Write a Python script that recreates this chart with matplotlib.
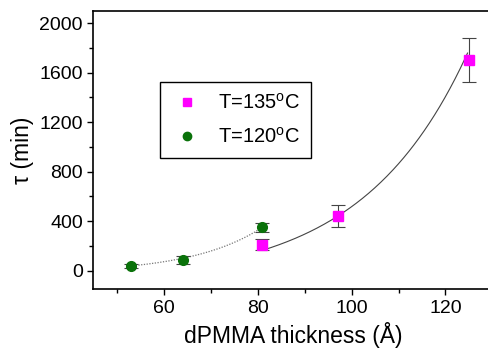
import numpy as np
import matplotlib
matplotlib.use("Agg")
import matplotlib.pyplot as plt
from matplotlib.lines import Line2D
from matplotlib.ticker import MultipleLocator

plt.rcParams['font.family'] = ['Liberation Sans', 'DejaVu Sans']
plt.rcParams['mathtext.fontset'] = 'custom'
plt.rcParams['mathtext.rm'] = 'Liberation Sans'

# relaxation time vs film thickness
thick_135 = [81, 97, 125]
tau_135 = [210, 440, 1700]
err_135 = [43, 90, 180]

thick_120 = [53, 64, 81]
tau_120 = [40, 88, 352]
err_120 = [16, 33, 36]

# exponential fits  y = y0 + A*exp((x - x0)/t)
fit_135 = dict(y0=-100, A=264, x0=81, t=22.4, xmin=81, xmax=124.7)
fit_120 = dict(y0=-19, A=57, x0=53, t=15.0, xmin=54, xmax=81)

magenta = '#ff00ff'
green = '#0a720a'


def fit_curve(p):
    x = np.linspace(p['xmin'], p['xmax'], 200)
    return x, p['y0'] + p['A'] * np.exp((x - p['x0']) / p['t'])


fig = plt.figure(figsize=(4.89, 3.54), dpi=100)
ax = fig.add_axes([0.191, 0.183, 0.816, 0.787])

x, y = fit_curve(fit_135)
ax.plot(x, y, color='#444444', lw=0.8)
x, y = fit_curve(fit_120)
ax.plot(x, y, color='#777777', lw=0.9, ls=(0, (1, 1.2)))

ax.errorbar(thick_120, tau_120, yerr=err_120, fmt='o', color=green, ms=7,
            ecolor='#444444', elinewidth=0.8, capsize=5, capthick=0.8)
ax.errorbar(thick_135, tau_135, yerr=err_135, fmt='s', color=magenta, ms=6.5,
            ecolor='#444444', elinewidth=0.8, capsize=5, capthick=0.8)

ax.set_xlim(45, 130)
ax.set_ylim(-150, 2100)
ax.xaxis.set_major_locator(MultipleLocator(20))
ax.xaxis.set_minor_locator(MultipleLocator(10))
ax.yaxis.set_major_locator(MultipleLocator(400))
ax.yaxis.set_minor_locator(MultipleLocator(200))
ax.tick_params(which='both', direction='out', top=False, right=False,
               labelsize=14, width=1)
ax.tick_params(which='major', length=4)
ax.tick_params(which='minor', length=3)
for s in ax.spines.values():
    s.set_linewidth(1.2)

ax.set_xlabel('dPMMA thickness (Å)', fontsize=16.5, labelpad=4)
ax.set_ylabel('τ (min)', fontsize=16.5, labelpad=4)

handles = [
    Line2D([], [], ls='none', marker='s', color=magenta, ms=5.5),
    Line2D([], [], ls='none', marker='o', color=green, ms=6),
]
labels = ['T=135$^\\mathrm{o}$C', 'T=120$^\\mathrm{o}$C']
leg = ax.legend(handles, labels, loc='upper left',
                bbox_to_anchor=(0.167, 0.744), fontsize=14.5, fancybox=False,
                edgecolor='black', framealpha=1, borderpad=0.55,
                handlelength=1.6, handletextpad=0.75, labelspacing=0.7,
                borderaxespad=0)
leg.get_frame().set_linewidth(1.0)

fig.savefig('out.png', dpi=100)
